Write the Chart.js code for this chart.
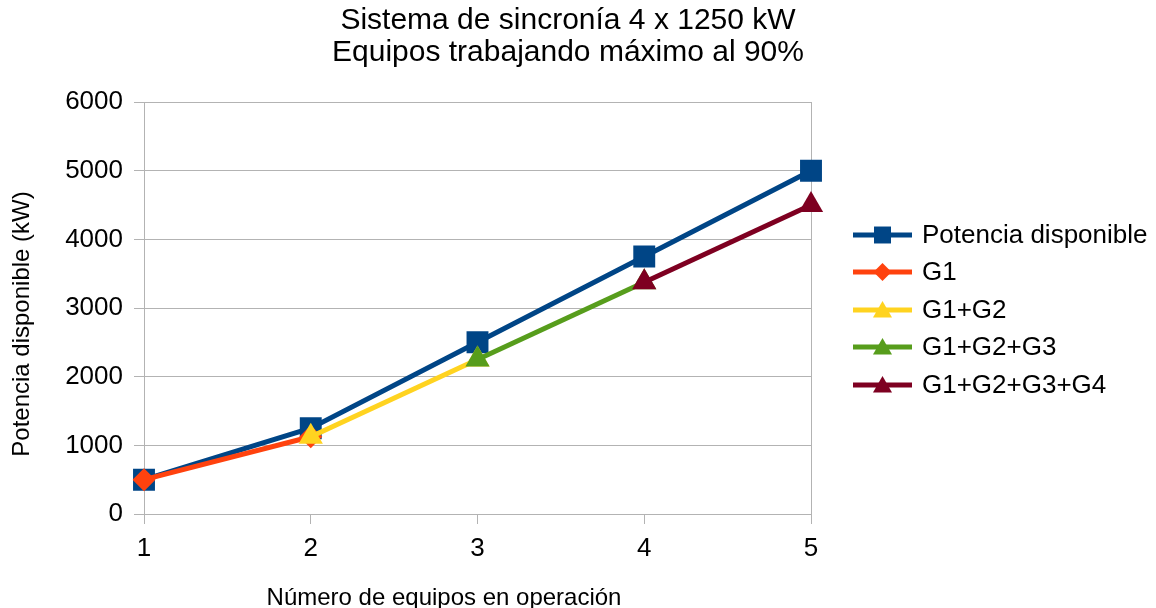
<!DOCTYPE html>
<html>
<head>
<meta charset="utf-8">
<script src="https://cdn.jsdelivr.net/npm/chart.js@4/dist/chart.umd.min.js"></script>
<style>
html,body{margin:0;padding:0;background:#fff;}
#wrap{width:1156px;height:608px;position:relative;}
</style>
</head>
<body>
<div id="wrap"><canvas id="c" width="1156" height="608"></canvas></div>
<script>
const categories = ['1', '2', '3', '4', '5'];
const potenciaDisponible = [500, 1250, 2500, 3750, 5000];
const g1 = [500, 1125, null, null, null];
const g1g2 = [null, 1125, 2250, null, null];
const g1g2g3 = [null, null, 2250, 3375, null];
const g1g2g3g4 = [null, null, null, 3375, 4500];
const seriesNames = ['Potencia disponible', 'G1', 'G1+G2', 'G1+G2+G3', 'G1+G2+G3+G4'];
const yTicks = [0, 1000, 2000, 3000, 4000, 5000, 6000];
const titleLines = ['Sistema de sincronía 4 x 1250 kW', 'Equipos trabajando máximo al 90%'];
const xTitle = 'Número de equipos en operación';
const yTitle = 'Potencia disponible (kW)';

const FONT = '"Liberation Sans", Arial, sans-serif';
const colors = ['#004586', '#ff420e', '#ffd320', '#579d1c', '#7e0021'];
const styles = ['rect', 'rectRot', 'triangle', 'triangle', 'triangle'];
const radii = [15.5, 11.5, 14, 14, 14];
const legendRadii = [12, 9, 11, 11, 11];
const allData = [potenciaDisponible, g1, g1g2, g1g2g3, g1g2g3g4];

const datasets = allData.map((d, i) => ({
  label: seriesNames[i],
  data: d,
  borderColor: colors[i],
  backgroundColor: colors[i],
  borderWidth: 5,
  pointStyle: styles[i],
  pointRadius: radii[i],
  pointHoverRadius: radii[i],
  pointBorderWidth: 0,
  pointBackgroundColor: colors[i],
  pointBorderColor: colors[i],
  tension: 0,
  spanGaps: false,
  order: 5 - i
}));

const decorPlugin = {
  id: 'decor',
  afterDraw(chart) {
    const ctx = chart.ctx;
    ctx.save();
    ctx.fillStyle = '#000';
    ctx.textAlign = 'center';
    ctx.textBaseline = 'middle';
    // title
    ctx.font = '30px ' + FONT;
    ctx.fillText(titleLines[0], 568, 21);
    ctx.fillText(titleLines[1], 568, 53);
    // axis titles
    ctx.font = '24px ' + FONT;
    ctx.fillText(xTitle, 444, 598);
    ctx.save();
    ctx.translate(22, 324);
    ctx.rotate(-Math.PI / 2);
    ctx.fillText(yTitle, 0, 0);
    ctx.restore();
    // legend
    const x0 = 853, x1 = 912, tx = 922;
    const ys = [235, 272, 310, 347, 385];
    ctx.font = '26px ' + FONT;
    ctx.textAlign = 'left';
    seriesNames.forEach((name, i) => {
      const y = ys[i];
      ctx.strokeStyle = colors[i];
      ctx.lineWidth = 5;
      ctx.beginPath();
      ctx.moveTo(x0, y);
      ctx.lineTo(x1, y);
      ctx.stroke();
      ctx.fillStyle = colors[i];
      Chart.helpers.drawPoint(ctx, {pointStyle: styles[i], rotation: 0, radius: legendRadii[i], borderWidth: 0}, (x0 + x1) / 2, y + (styles[i] === 'triangle' ? 2 : 0));
      ctx.fillStyle = '#000';
      ctx.fillText(name, tx, y + 1);
    });
    ctx.restore();
  }
};

new Chart(document.getElementById('c'), {
  type: 'line',
  data: { labels: categories, datasets },
  options: {
    responsive: false,
    animation: false,
    devicePixelRatio: 1,
    layout: { padding: { left: 0, right: 345, top: 102, bottom: 0 } },
    plugins: {
      legend: { display: false },
      tooltip: { enabled: false },
      title: { display: false }
    },
    scales: {
      x: {
        offset: false,
        afterFit: (axis) => { axis.height = 94; },
        grid: {
          color: (c) => (c.index === 0 || c.index === categories.length - 1) ? '#b3b3b3' : 'rgba(0,0,0,0)',
          tickColor: '#b3b3b3',
          tickLength: 10,
          lineWidth: 1
        },
        border: { display: true, color: '#b3b3b3' },
        ticks: { color: '#000', font: { family: FONT, size: 26 }, padding: 9, maxRotation: 0 },
        title: { display: false }
      },
      y: {
        min: 0,
        max: 6000,
        afterFit: (axis) => { axis.width = 144; },
        afterBuildTicks: (axis) => { axis.ticks = yTicks.map(v => ({ value: v })); },
        grid: { color: '#b3b3b3', tickColor: '#b3b3b3', tickLength: 10, lineWidth: 1 },
        border: { display: true, color: '#b3b3b3' },
        ticks: { color: '#000', font: { family: FONT, size: 26 }, padding: 11, callback: (v) => String(v) },
        title: { display: false }
      }
    }
  },
  plugins: [decorPlugin]
});
</script>
</body>
</html>
